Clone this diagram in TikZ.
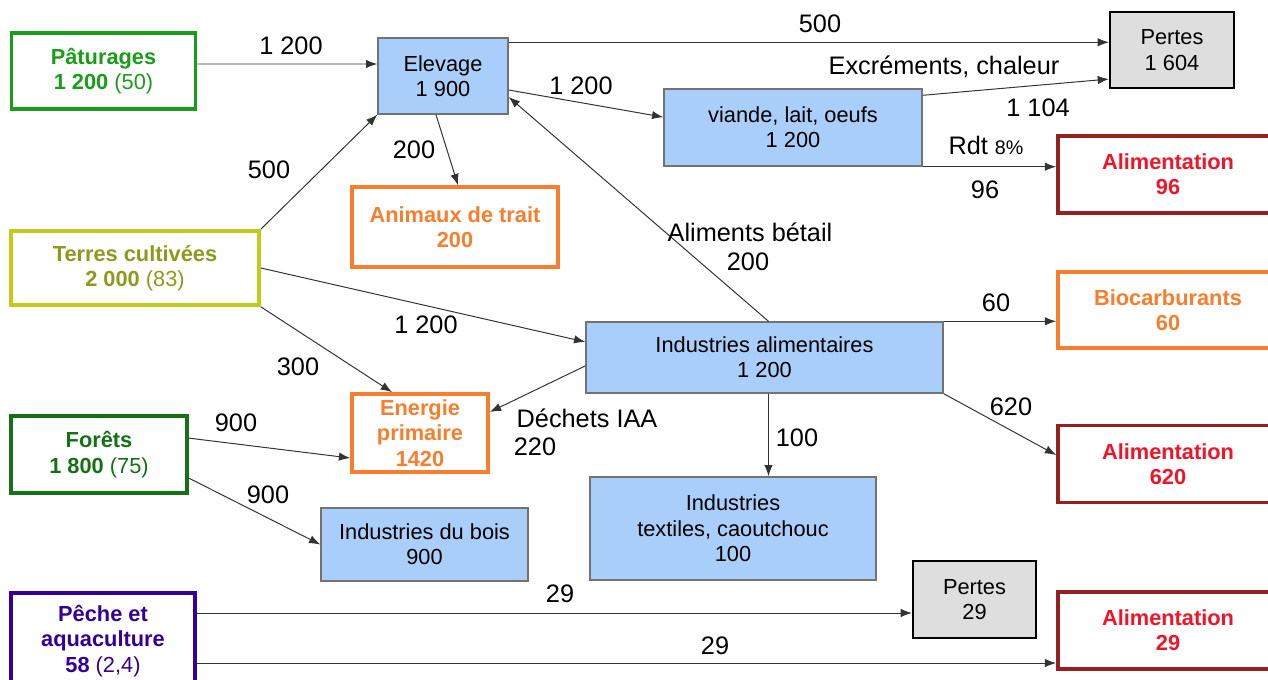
\documentclass[tikz,border=0pt]{standalone}
\usepackage{fontspec}
\setmainfont{Liberation Sans}
\usetikzlibrary{arrows.meta}
\definecolor{pastgreen}{RGB}{24,158,24}
\definecolor{terresline}{RGB}{192,204,24}
\definecolor{terrestext}{RGB}{140,154,30}
\definecolor{foretgreen}{RGB}{22,112,22}
\definecolor{pechepurple}{RGB}{52,0,150}
\definecolor{boxblue}{RGB}{170,206,250}
\definecolor{lossgray}{RGB}{222,222,222}
\definecolor{fooddark}{RGB}{150,32,32}
\definecolor{foodred}{RGB}{240,20,40}
\definecolor{useorange}{RGB}{246,126,44}
\newcommand\boxtxt{\fontsize{15.5}{18}\selectfont}
\newcommand\lbltxt{\fontsize{18}{21}\selectfont}
\tikzset{% styles of the flow chart
	plainbox/.style={draw, rectangle, align=center, inner sep=2pt, font=\boxtxt},
	srcbox/.style={plainbox, draw=#1, text=#1, line width=2.6pt, font=\boxtxt\bfseries},
	bluebox/.style={plainbox, draw=black!55, fill=boxblue, line width=1pt},
	lossbox/.style={plainbox, draw=black, fill=lossgray, line width=1.5pt},
	foodbox/.style={plainbox, draw=fooddark, text=foodred, line width=2.6pt, font=\boxtxt\bfseries,
		minimum width=5.5cm, minimum height=1.925cm},
	orangebox/.style={plainbox, draw=useorange, text=useorange, line width=2.6pt, font=\boxtxt\bfseries},
	flow/.style={-{Latex[length=8pt,width=6pt]}, line width=0.7pt, draw=black!80},
	lbl/.style={font=\lbltxt, inner sep=0pt},
}
\begin{document}
\begin{tikzpicture}[x=0.025cm, y=-0.025cm]
	\fill[white] (0,0) rectangle (1268,679);
	\useasboundingbox (0,0) rectangle (1268,679);
	\clip (0,0) rectangle (1268,679);

	% ressources
	\node[srcbox=pastgreen, minimum width=4.6cm, minimum height=1.9cm] (past) at (103.5,71)
		{Pâturages\\1 200 {\mdseries(50)}};
	\node[srcbox=terresline, text=terrestext, minimum width=6.2cm, minimum height=1.85cm] (terres) at (135,268)
		{Terres cultivées\\2 000 {\mdseries(83)}};
	\node[srcbox=foretgreen, minimum width=4.4cm, minimum height=1.925cm] (forets) at (99,454.5)
		{Forêts\\1 800 {\mdseries(75)}};
	\node[srcbox=pechepurple, minimum width=4.6cm, minimum height=2.4cm] (peche) at (103,641)
		{Pêche et\\aquaculture\\58 {\mdseries(2,4)}};

	% transformations
	\node[bluebox, minimum width=3.25cm, minimum height=1.9cm] (elev) at (443,76) {Elevage\\1 900};
	\node[bluebox, minimum width=6.45cm, minimum height=1.925cm] (viande) at (793,127.5) {viande, lait, oeufs\\1 200};
	\node[bluebox, minimum width=8.925cm, minimum height=1.775cm] (indalim) at (764.5,357.5) {Industries alimentaires\\1 200};
	\node[bluebox, minimum width=5.175cm, minimum height=1.825cm] (bois) at (424.5,544.5) {Industries du bois\\900};
	\node[bluebox, minimum width=7.15cm, minimum height=2.575cm] (textiles) at (733,528.5)
		{Industries\\textiles, caoutchouc\\100};

	% usages
	\node[orangebox, minimum width=5.15cm, minimum height=2cm] (animaux) at (455,227) {Animaux de trait\\200};
	\node[orangebox, minimum width=3.4cm, minimum height=1.95cm] (energie) at (420,433) {Energie\\primaire\\1420};
	\node[orangebox, minimum width=5.5cm, minimum height=1.9cm] (bio) at (1168,310) {Biocarburants\\60};
	\node[lossbox, minimum width=3.1cm, minimum height=1.9cm] (pertes1) at (1172,50) {Pertes\\1 604};
	\node[lossbox, minimum width=3.075cm, minimum height=1.925cm] (pertes2) at (974.5,599.5) {Pertes\\29};
	\node[foodbox] (alim1) at (1168,174.5) {Alimentation\\96};
	\node[foodbox] (alim2) at (1168,464) {Alimentation\\620};
	\node[foodbox] (alim3) at (1168,630.5) {Alimentation\\29};

	% flux
	\draw[flow] ([yshift=0.175cm]past.east) -- ([yshift=0.3cm]elev.west);
	\draw[flow] ([yshift=-0.125cm]elev.north east) -- ([yshift=-0.125cm]elev.north east -| pertes1.west);
	\draw[flow] ([yshift=-0.35cm]elev.east) -- ([yshift=0.26cm]viande.west);
	\draw[flow] ([xshift=-0.175cm]elev.south) -- ([xshift=0.075cm]animaux.north);
	\draw[flow] ([yshift=-0.175cm]viande.north east) -- ([yshift=0.25cm]pertes1.south west);
	\draw[flow] (viande.south east) -- (viande.south east -| alim1.west);
	\draw[flow] (terres.north east) -- (elev.south west);
	\draw[flow] (terres.east) -- ([yshift=0.39cm]indalim.west);
	\draw[flow] (terres.south east) -- ([xshift=-0.7cm]energie.north);
	\draw[flow] ([xshift=0.1cm]indalim.north) -- ([yshift=-0.525cm]elev.east);
	\draw[flow] (indalim.north east) -- (indalim.north east -| bio.west);
	\draw[flow] (indalim.south east) -- ([yshift=0.225cm]alim2.west);
	\draw[flow] ([xshift=0.1cm]indalim.south) -- ([xshift=0.1cm]indalim.south |- textiles.north);
	\draw[flow] ([yshift=-0.21cm]indalim.west) -- ([yshift=0.525cm]energie.east);
	\draw[flow] ([yshift=0.41cm]forets.east) -- ([yshift=-0.625cm]energie.west);
	\draw[flow] ([yshift=-0.59cm]forets.east) -- (bois.west);
	\draw[flow] ([yshift=0.7cm]peche.east) -- ([yshift=0.7cm]peche.east -| pertes2.west);
	\draw[flow] ([yshift=-0.55cm]peche.east) -- ([yshift=-0.55cm]peche.east -| alim3.west);

	% valeurs des flux
	\node[lbl] (l-past) at (291,46) {1 200};
	\node[lbl] (l-pertes) at (820,24) {500};
	\node[lbl] (l-viande) at (581,86) {1 200};
	\node[lbl] (l-excr) at (944,67) {Excréments, chaleur};
	\node[lbl] (l-excrv) at (1038,108) {1 104};
	\node[lbl] (l-rdt) at (986,145) {Rdt {\fontsize{14}{16}\selectfont 8\%}};
	\node[lbl] (l-alim1) at (985,190) {96};
	\node[lbl] (l-trait) at (414,150) {200};
	\node[lbl] (l-terres) at (269,170) {500};
	\node[lbl] (l-betail) at (750,232) {Aliments bétail};
	\node[lbl] (l-betailv) at (748,262) {200};
	\node[lbl] (l-bio) at (996,303) {60};
	\node[lbl] (l-indalim) at (426,325) {1 200};
	\node[lbl] (l-energie) at (298,367) {300};
	\node[lbl] (l-alim2) at (1011,407) {620};
	\node[lbl] (l-dechets) at (587,418) {Déchets IAA};
	\node[lbl] (l-dechetsv) at (535,447) {220};
	\node[lbl] (l-textiles) at (797,438) {100};
	\node[lbl] (l-foretsE) at (236,423) {900};
	\node[lbl] (l-foretsB) at (268,495) {900};
	\node[lbl] (l-pertes2) at (560,594) {29};
	\node[lbl] (l-alim3) at (715,646) {29};
\end{tikzpicture}
\end{document}
